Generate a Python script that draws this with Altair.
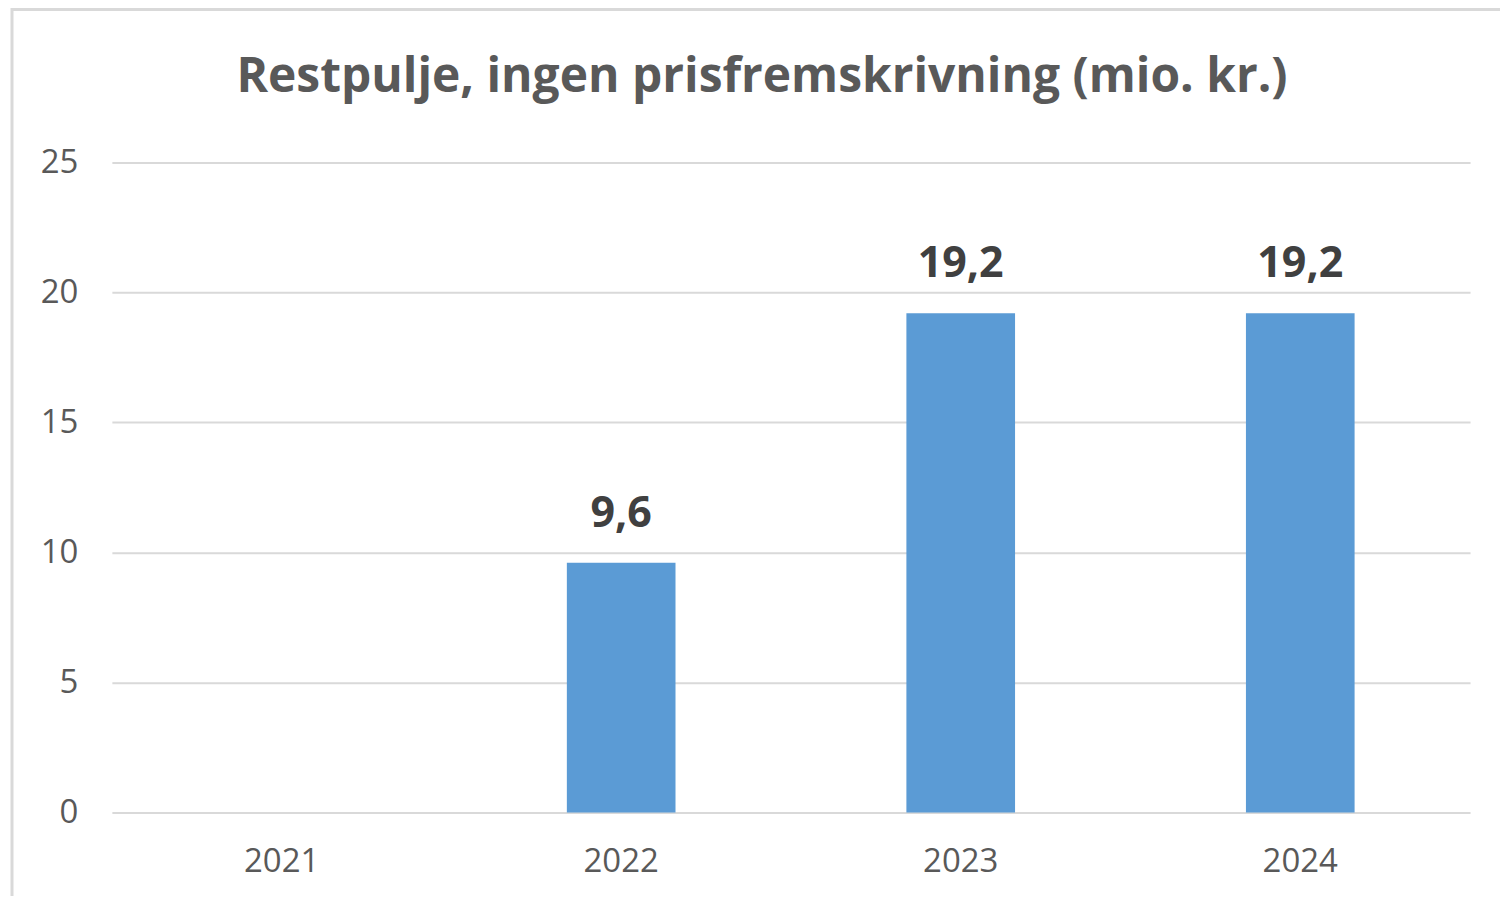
import altair as alt
import pandas as pd

years = ["2021", "2022", "2023", "2024"]
values = [0, 9.6, 19.2, 19.2]
y_ticks = [0, 5, 10, 15, 20, 25]
title_text = "Restpulje, ingen prisfremskrivning (mio. kr.)"

df = pd.DataFrame({"year": years, "value": values})

x_enc = alt.X(
    "year:N",
    sort=years,
    title=None,
    scale=alt.Scale(paddingInner=0.68, paddingOuter=0.34),
    axis=alt.Axis(labelAngle=0, labelFontSize=33, labelColor="#595959",
                  labelFont="Open Sans", labelPadding=33, ticks=False,
                  domain=False, grid=False),
)
y_enc = alt.Y(
    "value:Q",
    title=None,
    scale=alt.Scale(domain=[0, 25], nice=False),
    axis=alt.Axis(values=y_ticks, labelFontSize=33, labelColor="#595959",
                  labelFont="Open Sans", labelPadding=34, ticks=False,
                  domain=False, gridColor="#d9d9d9", gridWidth=2),
)

bars = alt.Chart(df).mark_bar(color="#5B9BD5").encode(x=x_enc, y=y_enc)

labels = alt.Chart(df).transform_filter("datum.value > 0").transform_calculate(
    lbl="replace(format(datum.value, '.1f'), '.', ',')"
).mark_text(dy=-49, fontSize=43, fontWeight="bold", font="Open Sans",
            color="#404040").encode(
    x=alt.X("year:N", sort=years), y="value:Q", text="lbl:N"
)

frame = alt.Chart(pd.DataFrame({"a": [0]})).mark_rect(
    fill=None, stroke="#d9d9d9", strokeWidth=3
).encode(
    x=alt.value(-100), x2=alt.value(1500),
    y=alt.value(-153), y2=alt.value(900),
)

title = alt.Chart(pd.DataFrame({"t": [title_text]})).mark_text(
    fontSize=48, fontWeight="bold", font="Open Sans", color="#595959",
    align="center", baseline="middle"
).encode(x=alt.value(651), y=alt.value(-84), text="t:N")

chart = alt.layer(frame, bars, labels, title).properties(
    width=1360,
    height=651,
    padding={"left": 104, "top": 154, "right": 30, "bottom": 83},
    autosize=alt.AutoSizeParams(type="none"),
).configure(background="white").configure_view(stroke=None)

chart.save("out.html", embed_options={"renderer": "svg", "actions": False})
